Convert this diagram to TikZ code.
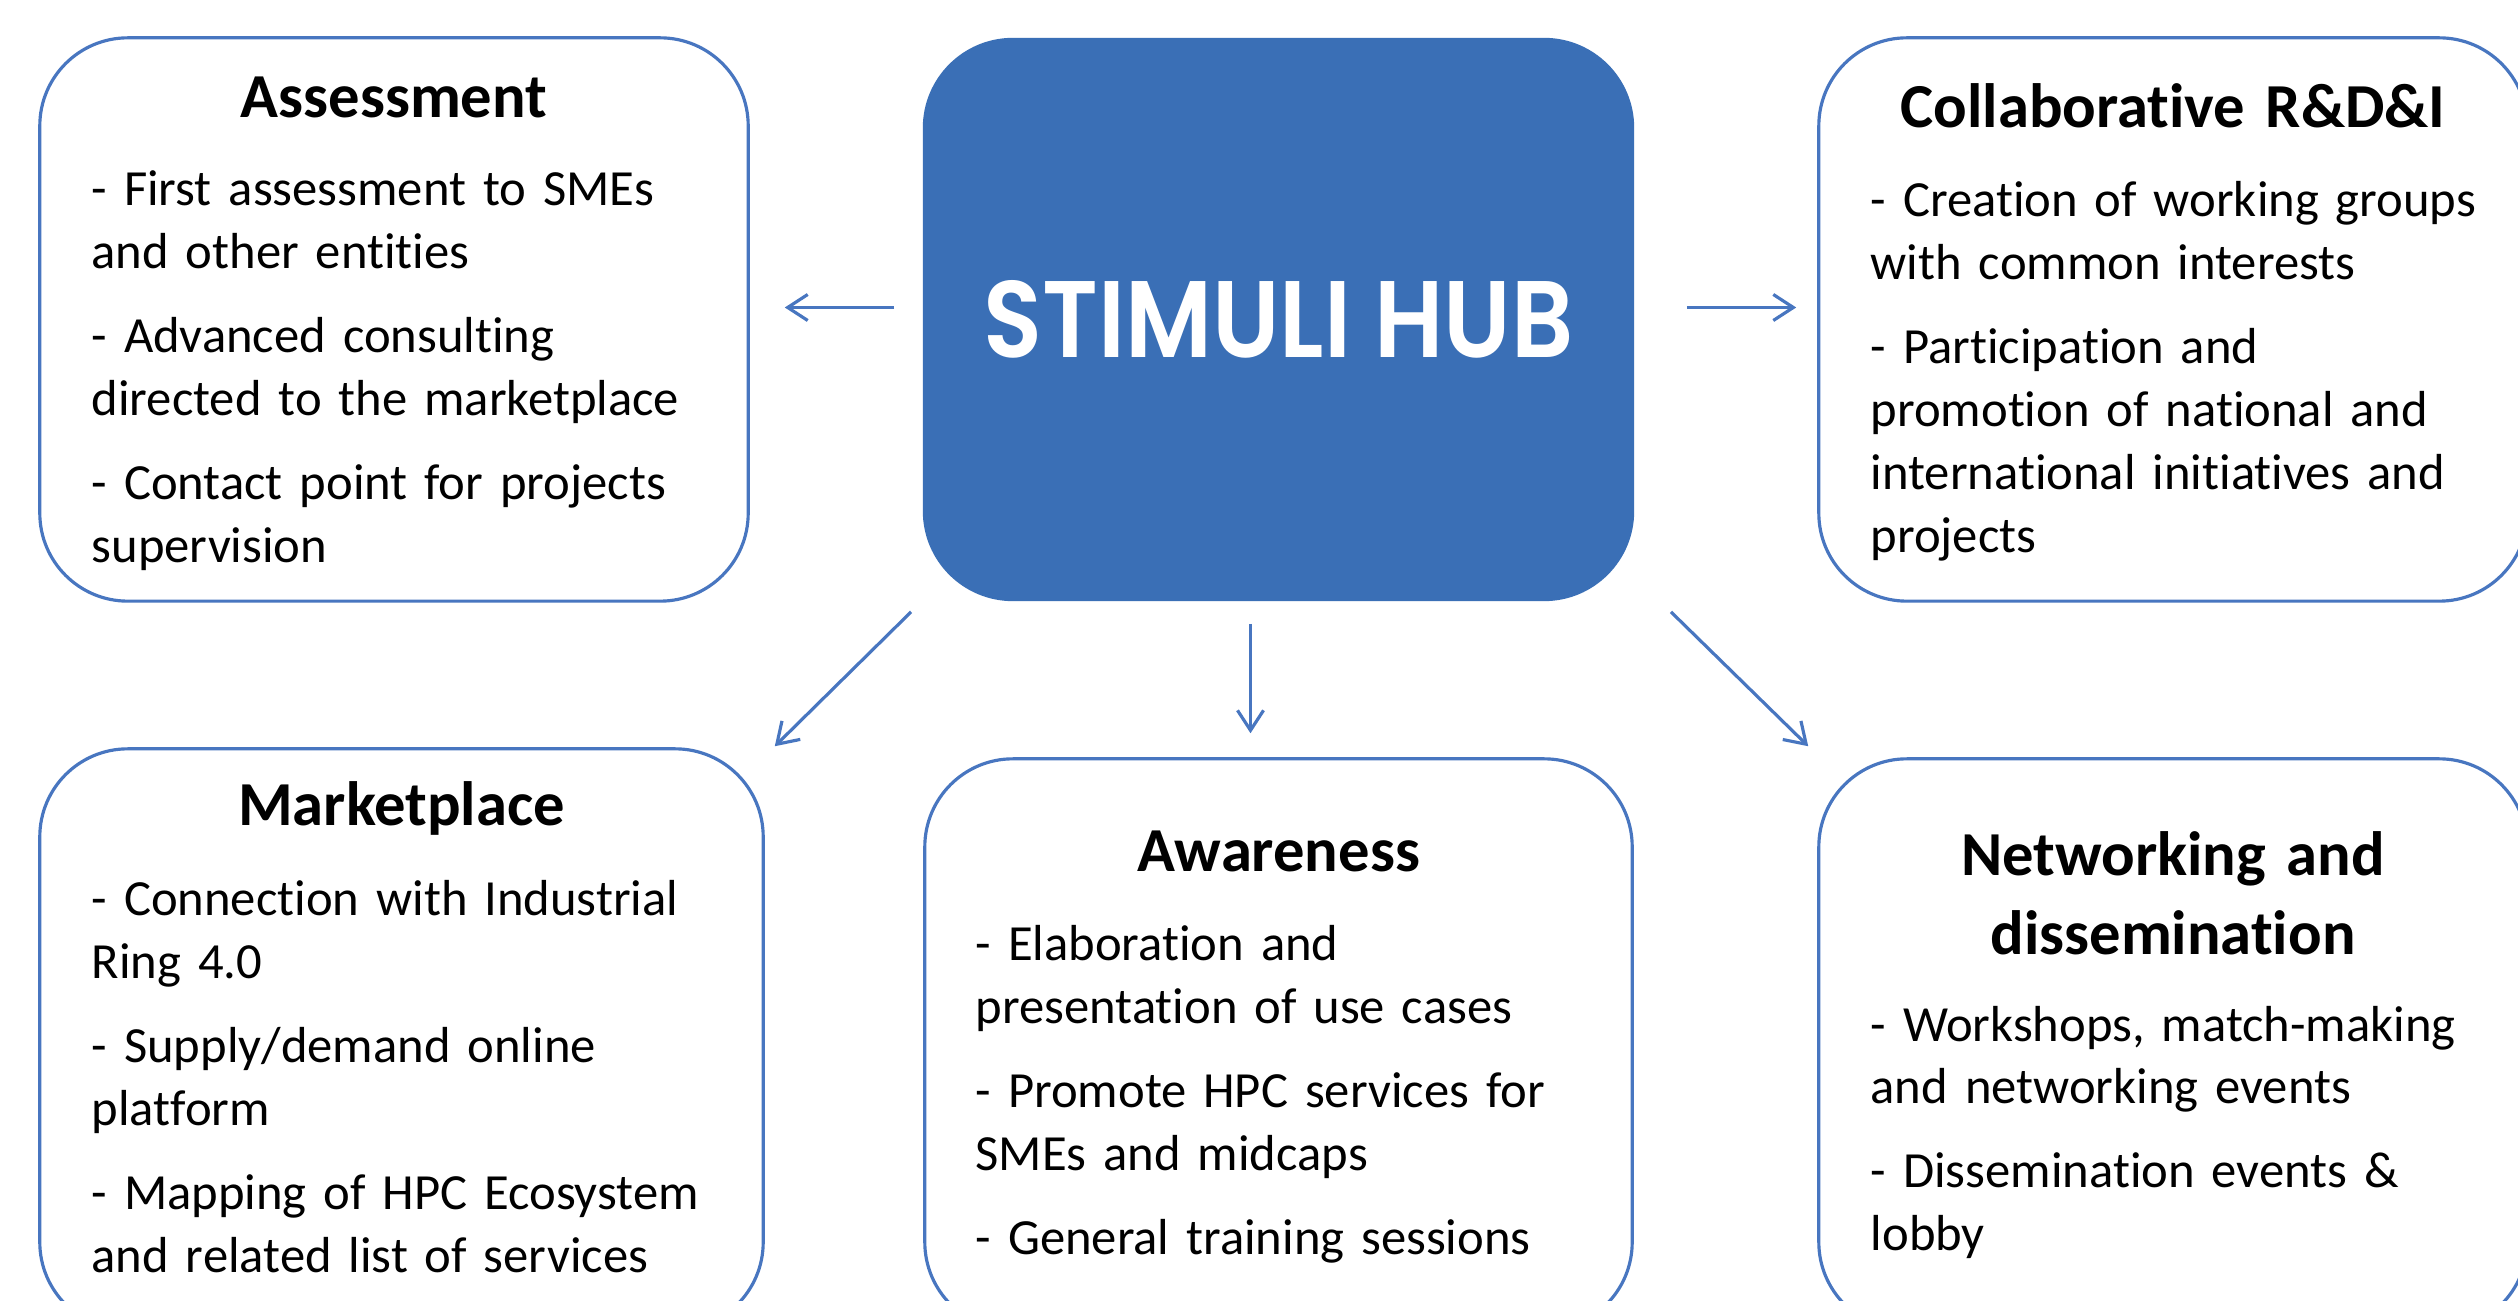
\documentclass[tikz,border=0pt]{standalone}
\usepackage{fontspec}
\usepackage{graphicx}
\setmainfont{Carlito}[Ligatures={NoCommon}]
\newfontfamily\hubfont{Poppins}[BoldFont={Poppins SemiBold}]
\usetikzlibrary{arrows.meta}
\definecolor{hubblue}{RGB}{58,111,182}
\definecolor{lineblue}{RGB}{72,118,192}
\tikzstyle{card} = [rectangle, rounded corners=0.88cm, draw=lineblue, line width=0.9pt]
\tikzstyle{hubbox} = [rectangle, rounded corners=0.9cm, fill=hubblue, text=white, inner sep=0pt]
\tikzstyle{heading} = [inner sep=0pt, text width=7cm, align=center, font=\bfseries\fontsize{17.8}{22.4}\selectfont]
\tikzstyle{items} = [inner sep=0pt, text width=6.5cm, align=left, font=\fontsize{14.4}{17.9}\selectfont]
\tikzstyle{link} = [-{Straight Barb[length=0.2cm,width=0.26cm]}, draw=lineblue, line width=0.9pt]

\begin{document}
\begin{tikzpicture}[x=0.01cm, y=-0.01cm]
  \path[use as bounding box, fill=white] (0,0) rectangle (2518,1301);

  % hub and the five fields
  \node (hub) [hubbox, minimum width=7.11cm, minimum height=5.63cm] at (1278.5, 319.5)
    {\resizebox{5.89cm}{0.77cm}{\hubfont\bfseries STIMULI HUB}};
  \node (assess) [card, minimum width=7.08cm, minimum height=5.63cm] at (394, 319.5) {};
  \node (collab) [card, minimum width=7.08cm, minimum height=5.63cm] at (2173, 319.5) {};
  \node (market) [card, minimum width=7.23cm, minimum height=5.81cm] at (401.5, 1039.5) {};
  \node (aware) [card, minimum width=7.07cm, minimum height=5.71cm] at (1278.5, 1044.5) {};
  \node (network) [card, minimum width=7.08cm, minimum height=5.71cm] at (2173, 1044.5) {};

  % texts
  \node (assess_t) [heading, anchor=base] at (394, 118) {Assessment};
  \node (assess_b) [items, anchor=base west] at (91, 206)
    {- First assessment to SMEs\\ and other entities\\[0.21cm]
     - Advanced consulting\\ directed to the marketplace\\[0.21cm]
     - Contact point for projects\\ supervision};
  \node (collab_t) [heading, anchor=base] at (2173, 128) {Collaborative R\&D\&I};
  \node (collab_b) [items, anchor=base west] at (1870, 217)
    {- Creation of working groups\\ with common interests\\[0.21cm]
     - Participation and\\ promotion of national and\\ international initiatives and\\ projects};
  \node (market_t) [heading, anchor=base] at (401.5, 826) {Marketplace};
  \node (market_b) [items, anchor=base west] at (91, 916)
    {- Connection with Industrial\\ Ring 4.0\\[0.21cm]
     - Supply/demand online\\ platform\\[0.21cm]
     - Mapping of HPC Ecosystem\\ and related list of services};
  \node (aware_t) [heading, anchor=base] at (1278.5, 872) {Awareness};
  \node (aware_b) [items, anchor=base west] at (975, 961)
    {- Elaboration and\\ presentation of use cases\\[0.21cm]
     - Promote HPC services for\\ SMEs and midcaps\\[0.21cm]
     - General training sessions};
  \node (network_t) [heading, anchor=base] at (2173, 876) {Networking and\\ dissemination};
  \node (network_b) [items, anchor=base west] at (1870, 1041)
    {- Workshops, match-making\\ and networking events\\[0.21cm]
     - Dissemination events \&\\ lobby};

  % arrows out of the hub
  \draw [link] ([shift={(-28,-12)}]hub.west) -- ([shift={(35,-12)}]assess.east);
  \draw [link] ([shift={(52,-12)}]hub.east) -- ([shift={(-21,-12)}]collab.west);
  \draw [link] ([shift={(-11,10)}]hub.south west) -- ([shift={(10,-1)}]market.north east);
  \draw [link] ([shift={(-28,22)}]hub.south) -- ([shift={(-28,-24)}]aware.north);
  \draw [link] ([shift={(36,10)}]hub.south east) -- ([shift={(-9,-11)}]network.north west);
\end{tikzpicture}
\end{document}
